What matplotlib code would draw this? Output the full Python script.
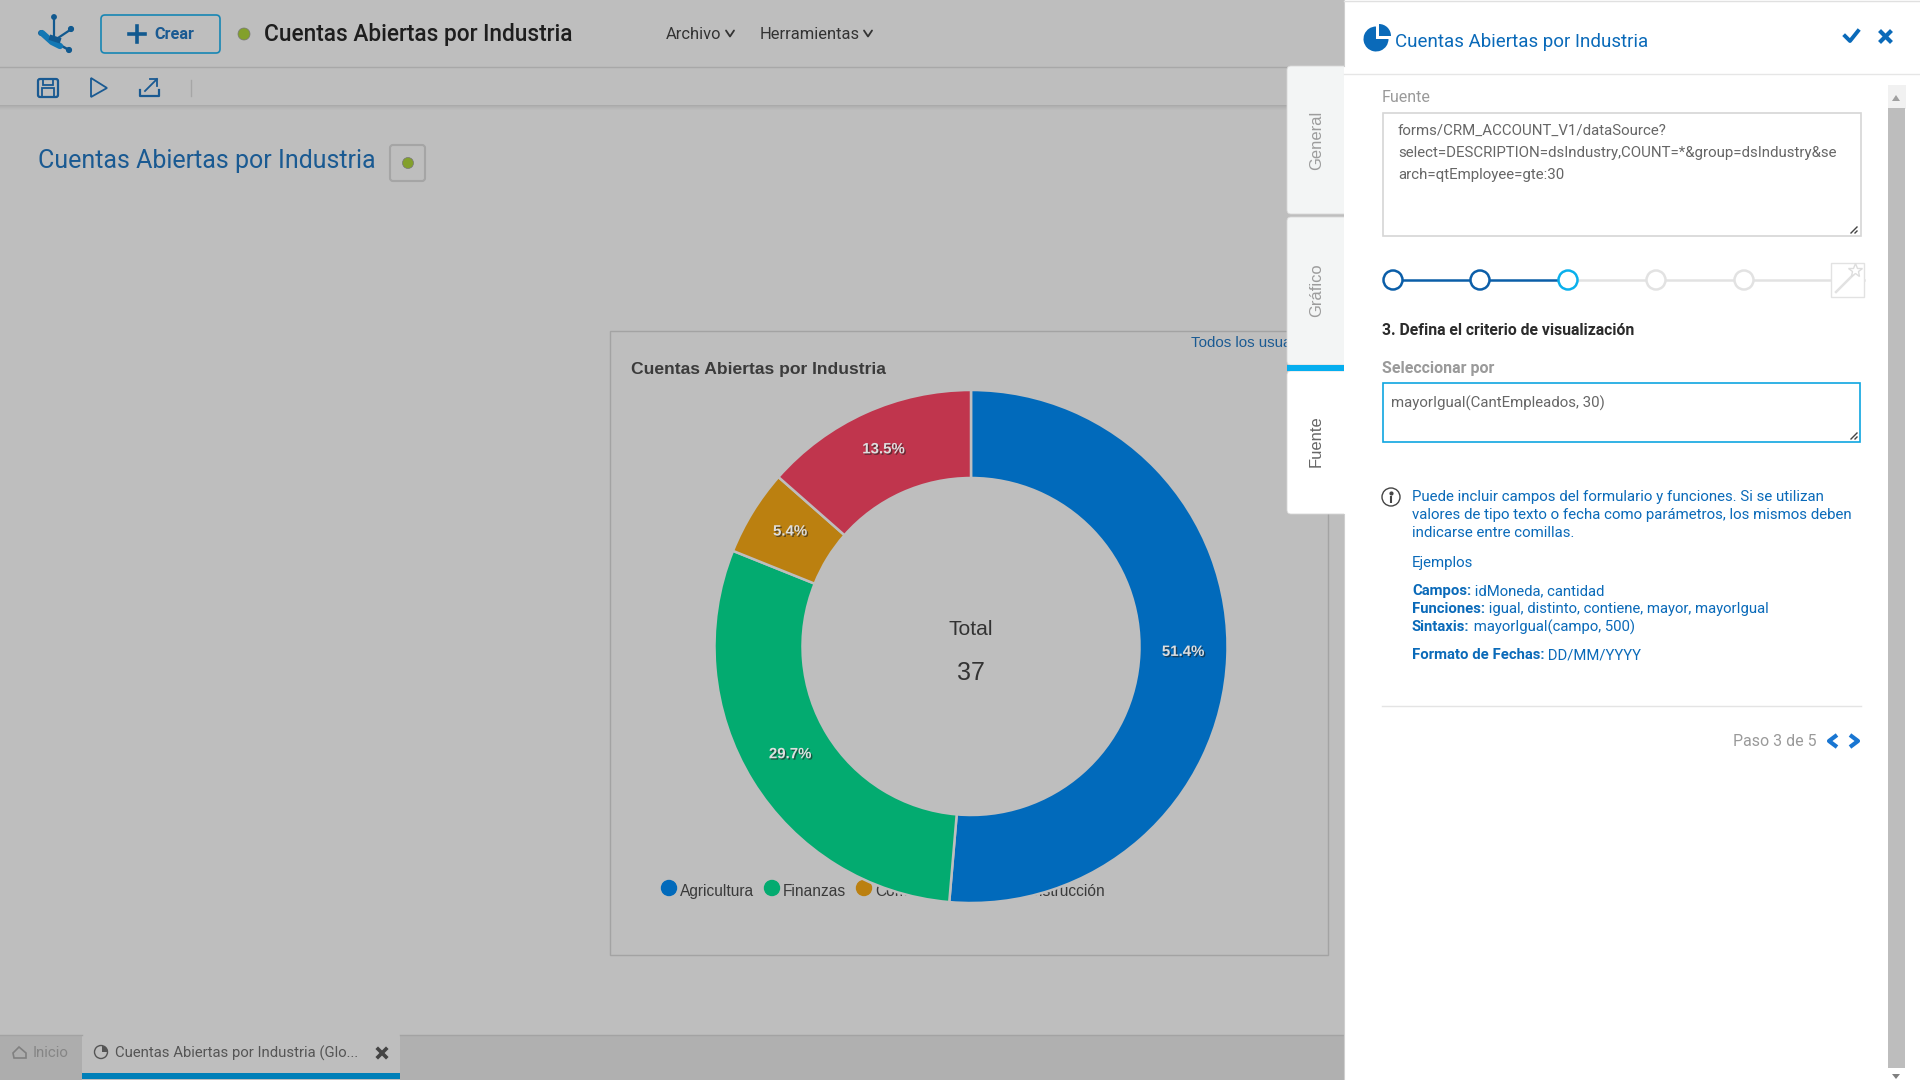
import matplotlib
matplotlib.use('Agg')
import matplotlib.pyplot as plt
import matplotlib.patheffects as pe
from matplotlib.patches import Rectangle, Circle, Wedge, FancyBboxPatch, Polygon

# chart data
industries = ['Agricultura', 'Finanzas', 'Comercio', 'Construcción']
accounts = [19, 11, 2, 5]
slice_colors = ['#016abb', '#03ab70', '#bb8010', '#c0354d']
total_label = 'Total'
chart_title = 'Cuentas Abiertas por Industria'

# panel texts
tab_names = ['General', 'Gráfico', 'Fuente']
source_lines = ['forms/CRM_ACCOUNT_V1/dataSource?',
                'select=DESCRIPTION=dsIndustry,COUNT=*&group=dsIndustry&se',
                'arch=qtEmployee=gte:30']
help_lines = ['Puede incluir campos del formulario y funciones. Si se utilizan',
              'valores de tipo texto o fecha como parámetros, los mismos deben',
              'indicarse entre comillas.']
example_rows = [('Campos:', ' idMoneda, cantidad'),
                ('Funciones:', ' igual, distinto, contiene, mayor, mayorIgual'),
                ('Sintaxis:', ' mayorIgual(campo, 500)'),
                ('Formato de Fechas:', ' DD/MM/YYYY')]

BG = '#bebebe'
NAVY = '#1a5a92'
BLUE = '#0a6ab9'
plt.rcParams['font.family'] = ['Roboto', 'DejaVu Sans']

fig = plt.figure(figsize=(19.2, 10.8), dpi=100, facecolor=BG)


def pixel_axes(zorder):
    ax = fig.add_axes([0, 0, 1, 1], zorder=zorder)
    ax.set_xlim(0, 1920)
    ax.set_ylim(1080, 0)
    ax.axis('off')
    ax.patch.set_alpha(0)
    return ax


def txt(ax, x, y, s, px, color='#333333', **kw):
    kw.setdefault('va', 'center')
    return ax.text(x, y + 1.2, s, fontsize=px * 0.72, color=color, **kw)


def rrect(ax, x0, y0, x1, y1, r=3, **kw):
    p = FancyBboxPatch((x0, y0), x1 - x0, y1 - y0, boxstyle=f'round,pad=0,rounding_size={r}', **kw)
    ax.add_patch(p)
    return p


def chevron(ax, x, y, w, h, color, lw=2.2):
    ax.plot([x - w, x, x + w], [y - h, y + h, y - h], color=color, lw=lw, solid_capstyle='round')


def side_chevron(ax, x, y, w, h, color, lw=3):
    ax.plot([x + w, x - w, x + w], [y - h, y, y + h], color=color, lw=lw, solid_capstyle='butt')


# background layer, everything under the donut
bg = pixel_axes(0)

# header and toolbar
bg.plot([0, 1344], [67, 67], color='#a8a8a8', lw=1)
for i, a in enumerate([0.10, 0.07, 0.05, 0.03, 0.015]):
    bg.add_patch(Rectangle((0, 105 + i), 1344, 1, color='k', alpha=a, lw=0))

# logo
logo = '#11598f'
bg.plot([54, 54], [18, 38], color=logo, lw=1.6)
bg.plot([58, 70], [38, 30], color=logo, lw=1.6)
bg.plot([60, 69], [45, 50], color=logo, lw=1.8)
bg.plot([42, 52, 60], [33, 42, 46], color='#1378b4', lw=4.5, solid_capstyle='round')
bg.plot([52, 58], [38, 40], color=logo, lw=4)
for lx, ly, lr in [(54, 17, 2.2), (71, 29, 2.4), (69, 50, 2.4), (41, 33, 2.2)]:
    bg.add_patch(Circle((lx, ly), lr, color=logo))

rrect(bg, 101, 15, 220, 53, r=4, fc='none', ec='#1786b4', lw=1.2)
bg.plot([129, 145], [34, 34], color='#11598f', lw=2.6)
bg.plot([137, 137], [26, 42], color='#11598f', lw=2.6)
txt(bg, 154, 33.5, 'Crear', 16.3, '#1a5a92', weight='bold')
bg.add_patch(Circle((244, 34), 6, fc='#83a02c', ec='#777777', lw=0.5))
txt(bg, 264, 33.5, chart_title, 22.6, '#1e1e1e', weight='medium')
txt(bg, 666, 33.5, 'Archivo', 16.5, '#333333')
chevron(bg, 730, 33.5, 4, 3, '#333333', 1.3)
txt(bg, 760, 33.5, 'Herramientas', 16.5, '#333333')
chevron(bg, 868, 33.5, 4, 3, '#333333', 1.3)

# toolbar icons
rrect(bg, 38, 79, 58, 97, r=2, fc='none', ec=NAVY, lw=1.6)
bg.add_patch(Rectangle((43, 79), 10, 6, fc='none', ec=NAVY, lw=1.3))
bg.add_patch(Rectangle((42, 88), 12, 9, fc='none', ec=NAVY, lw=1.3))
bg.add_patch(Polygon([(91, 78), (107, 88), (91, 97)], closed=True, fc='none', ec=NAVY, lw=1.3))
bg.plot([140, 140, 159, 159], [90, 96, 96, 90], color=NAVY, lw=1.6)
bg.plot([145, 157], [91, 79], color=NAVY, lw=1.3)
bg.plot([150, 157, 157], [79, 79, 86], color=NAVY, lw=1.3)
bg.plot([191, 191], [80, 96], color='#a6a6a6', lw=1)

# page title
txt(bg, 38, 160, chart_title, 25, NAVY)
rrect(bg, 390, 145, 425, 181, r=3, fc='none', ec='#a5a5a5', lw=1.5)
bg.add_patch(Circle((408, 163), 5.5, fc='#83a02c', ec='#777777', lw=0.5))

# chart box
bg.add_patch(Rectangle((610, 331), 718, 624, fc='none', ec='#a3a3a3', lw=1))
txt(bg, 631, 368, chart_title, 17.5, '#3b3b3b', family='Liberation Sans', weight='bold')
txt(bg, 1191, 342, 'Todos los usuarios', 15, NAVY, family='Liberation Sans')

# legend, partly hidden by the donut like in the original
legend_marks = [669, 772, 864]
legend_text = [680, 783, 875]
for i, name in enumerate(industries[:3]):
    bg.add_patch(Circle((legend_marks[i], 888), 7.5, color=slice_colors[i]))
    txt(bg, legend_text[i], 890, name, 15.5, '#3a3a3a', family='Liberation Sans')
txt(bg, 1105, 890, industries[3], 15.5, '#3a3a3a', family='Liberation Sans', ha='right')

# bottom tab bar
bg.add_patch(Rectangle((0, 1035), 82, 45, fc='#adadad', lw=0))
bg.add_patch(Rectangle((400, 1035), 944, 45, fc='#b0b0b0', lw=0))
bg.plot([0, 82], [1035, 1035], color='#a3a3a3', lw=1)
bg.plot([400, 1344], [1035, 1035], color='#a3a3a3', lw=1)
bg.add_patch(Rectangle((82, 1073), 318, 6, fc='#007fb8', lw=0))
bg.add_patch(Polygon([(13, 1053), (19, 1047), (26, 1053), (26, 1058), (14, 1058)], closed=True, fc='none', ec='#808080', lw=1.2))
txt(bg, 33, 1052, 'Inicio', 15, '#858585')
bg.add_patch(Circle((101, 1052), 6.5, fc='none', ec='#555555', lw=1))
bg.add_patch(Wedge((102, 1052), 6, -90, 0, fc='#555555', lw=0))
txt(bg, 115, 1052, 'Cuentas Abiertas por Industria (Glo...', 14.9, '#555555')
bg.plot([378, 386], [1049, 1057], color='#444444', lw=2.6)
bg.plot([386, 378], [1049, 1057], color='#444444', lw=2.6)

# donut, sized so its radius is 256.5 px with centre at 971, 646.5
R = 256.5
donut = fig.add_axes([(971 - R) / 1920, 1 - (646.5 + R) / 1080, 2 * R / 1920, 2 * R / 1080], zorder=1)
wedges, _, autotexts = donut.pie(
    accounts, colors=slice_colors, startangle=90, counterclock=False, radius=1,
    autopct='%.1f%%', pctdistance=0.828,
    wedgeprops=dict(width=88 / R, edgecolor=BG, linewidth=1.8),
    textprops=dict(fontsize=15 * 0.72, family='Liberation Sans', weight='bold', color='#dedede'))
for t in autotexts:
    tx, ty = t.get_position()
    t.set_position((tx, ty + 3.6 / R))
    t.set_path_effects([pe.withSimplePatchShadow(offset=(1, -1), shadow_rgbFace='#222222', alpha=0.6)])
donut.set_xlim(-1, 1)
donut.set_ylim(-1, 1)
donut.patch.set_alpha(0)
donut.text(0, 0.068, total_label, ha='center', va='center', fontsize=21 * 0.72, color='#333333', family='Liberation Sans')
donut.text(0, -0.105, str(sum(accounts)), ha='center', va='center', fontsize=25 * 0.72, color='#333333', family='Liberation Sans')

# right side panel on top
ui = pixel_axes(2)

tab_boxes = [(66, 214), (217, 365), (371, 514)]
tab_centers = [139, 289, 440]
tab_fill = ['#f3f5f5', '#f3f5f5', '#ffffff']
tab_text = ['#9c9c9c', '#9c9c9c', '#666666']
for i in range(3):
    y0, y1 = tab_boxes[i]
    rrect(ui, 1287, y0, 1350, y1, r=4, fc=tab_fill[i], ec='#d8d8d8', lw=0.6)
    txt(ui, 1316.5, tab_centers[i], tab_names[i], 16.5, tab_text[i], family='Liberation Sans', rotation=90, ha='center')
ui.add_patch(Rectangle((1287, 365), 57, 6, fc='#06aeef', lw=0))

ui.add_patch(Rectangle((1344, 0), 576, 1080, fc='white', lw=0))
ui.plot([1344, 1344], [0, 66], color='#cfcfcf', lw=0.8)
ui.plot([1344, 1344], [514, 1080], color='#cfcfcf', lw=0.8)
ui.plot([1344, 1920], [74, 74], color='#e6e6e6', lw=1)
ui.plot([1344, 1920], [0.5, 0.5], color='#e0e0e0', lw=1)

# panel header
ui.add_patch(Wedge((1376, 39), 12.5, 0, 270, fc=BLUE, lw=0))
ui.add_patch(Wedge((1379, 36), 12, -90, 0, fc=BLUE, lw=0))
txt(ui, 1395, 40.5, chart_title, 18.8, BLUE)
ui.plot([1845, 1850, 1858], [36, 41, 31], color=BLUE, lw=2.8)
ui.plot([1881, 1890], [32, 41], color=BLUE, lw=3)
ui.plot([1890, 1881], [32, 41], color=BLUE, lw=3)

# scrollbar
ui.add_patch(Rectangle((1888, 85), 18, 24, fc='#f1f1f1', lw=0))
ui.add_patch(Rectangle((1888, 108), 17, 960, fc='#bdbdbd', lw=0))
ui.add_patch(Polygon([(1892, 101), (1900, 101), (1896, 95)], closed=True, fc='#a0a0a0', lw=0))
ui.add_patch(Polygon([(1892, 1074), (1900, 1074), (1896, 1079)], closed=True, fc='#808080', lw=0))

# source field
txt(ui, 1382, 96, 'Fuente', 16, '#9a9a9a')
ui.add_patch(Rectangle((1382.5, 113), 478, 123, fc='white', ec='#d6d6d6', lw=1.2))
for y, line in zip([130, 152, 174], source_lines):
    txt(ui, 1398, y, line, 15, '#666666')
for x0, y0 in [(1851, 234), (1855, 234)]:
    ui.plot([x0, x0 + (1857 - x0)], [y0 - 1, y0 - 1 - (1857 - x0)], color='#444444', lw=1)

# stepper
step_x = [1393, 1480, 1568, 1656, 1744]
ui.plot([1656, 1864], [280, 280], color='#e2e2e2', lw=1.8, zorder=1)
ui.plot([1568, 1656], [280, 280], color='#e2e2e2', lw=1.8, zorder=1)
ui.plot([1393, 1568], [280, 280], color='#0b5ea8', lw=1.8, zorder=1)
step_ec = ['#0b5ea8', '#0b5ea8', '#0ab0ec', '#e2e2e2', '#e2e2e2']
for x, ec in zip(step_x, step_ec):
    ui.add_patch(Circle((x, 280), 9.5, fc='white', ec=ec, lw=1.8, zorder=2))
ui.add_patch(Rectangle((1831, 263), 33, 34, fc='white', ec='#e2e2e2', lw=1, zorder=2))
ui.plot([1836, 1853], [292, 275], color='#e2e2e2', lw=1.8, zorder=3)
ui.plot([1855], [270], marker='*', ms=10, mfc='white', mec='#dddddd', zorder=3)

txt(ui, 1382, 329, '3. Defina el criterio de visualización', 15.8, '#2b2b2b', weight='bold')
txt(ui, 1382, 367, 'Seleccionar por', 16, '#9a9a9a', weight='bold')
ui.add_patch(Rectangle((1383, 383), 477, 59, fc='white', ec='#0ea5e0', lw=1.2))
txt(ui, 1391, 402, 'mayorIgual(CantEmpleados, 30)', 15, '#666666')
for x0, y0 in [(1851, 440), (1855, 440)]:
    ui.plot([x0, 1857], [y0 - 1, y0 - 1 - (1857 - x0)], color='#444444', lw=1)

# help text
ui.add_patch(Circle((1391, 497), 9, fc='white', ec='#444444', lw=1))
ui.plot([1391, 1391], [496, 503], color='#444444', lw=1.5, solid_capstyle='butt')
ui.plot([1391], [492.5], marker='o', ms=2, color='#444444')
for y, line in zip([496, 514, 532], help_lines):
    txt(ui, 1412, y, line, 15, BLUE)
txt(ui, 1412, 562, 'Ejemplos', 15, BLUE)

fig.canvas.draw()
renderer = fig.canvas.get_renderer()
for y, (head, rest) in zip([590, 608, 626, 654], example_rows):
    h = txt(ui, 1412, y, head, 14.9, BLUE, weight='bold')
    x1 = ui.transData.inverted().transform(h.get_window_extent(renderer).p1)[0]
    txt(ui, x1, y, rest, 14.9, BLUE)

ui.plot([1382, 1861], [706, 706], color='#e4e4e4', lw=1)
txt(ui, 1817, 740, 'Paso 3 de 5', 16, '#9a9a9a', ha='right')
side_chevron(ui, 1833, 741, 4, 6, '#1976d2')
side_chevron(ui, 1854, 741, -4, 6, '#1976d2')

fig.savefig('out.png', dpi=100, facecolor=BG)
